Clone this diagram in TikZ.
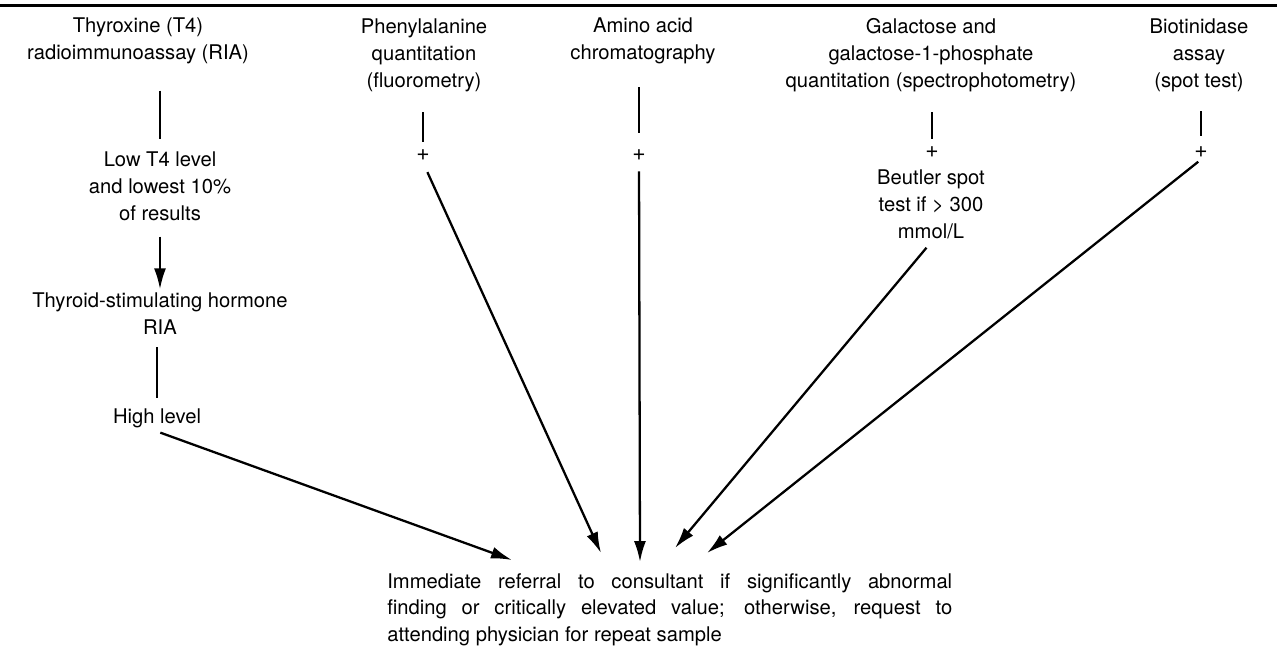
\documentclass[tikz,border=0pt]{standalone}
\usepackage{fontspec}
\setmainfont{TeX Gyre Heros}
\usetikzlibrary{arrows.meta, positioning, calc}

\tikzset{
  testtext/.style={font=\fontsize{11.5}{15.3}\selectfont, align=center, inner sep=2pt},
  plussign/.style={font=\fontsize{13}{13}\selectfont, inner sep=1pt},
  link/.style={line width=1.3pt},
  arrowlink/.style={line width=1.3pt, -{Latex[length=4.2mm, width=2.4mm]}},
}

\begin{document}
\begin{tikzpicture}[x=0.02cm, y=-0.02cm]
  \useasboundingbox (0,0) rectangle (1277,664);

  % rule at the top
  \draw[line width=1.7pt] (0,5) -- (1277,5);

  % screening tests
  \node[testtext] (thyro) at (138,41) {Thyroxine (T4)\\radioimmunoassay (RIA)};
  \node[testtext] (phe)   at (424,55) {Phenylalanine\\quantitation\\(fluorometry)};
  \node[testtext] (amino) at (643,41) {Amino acid\\chromatography};
  \node[testtext] (gal)   at (931,55) {Galactose and\\galactose-1-phosphate\\quantitation (spectrophotometry)};
  \node[testtext] (bio)   at (1199,55) {Biotinidase\\assay\\(spot test)};

  % thyroid branch
  \node[testtext] (low)  at (160,186) {Low T4 level\\and lowest 10\%\\of results};
  \node[testtext] (tsh)  at (160,314) {Thyroid-stimulating hormone\\RIA};
  \node[testtext] (high) at (157,418) {High level};

  % positive results
  \node[plussign] (pheplus)   at (423,155) {+};
  \node[plussign] (aminoplus) at (639,155) {+};
  \node[plussign] (galplus)   at (932,152) {+};
  \node[plussign] (bioplus)   at (1201,152) {+};
  \node[testtext] (beutler) at (931,204) {Beutler spot\\test if > 300\\mmol/L};

  % outcome
  \node[font=\fontsize{11.5}{15.2}\selectfont, text width=11.3cm, align=justify,
        inner sep=0pt, anchor=north west] (referral) at (387,573)
    {Immediate referral to consultant if significantly abnormal\linebreak
     finding or critically elevated value; otherwise, request to\linebreak
     attending physician for repeat sample};

  \coordinate (tiphigh)  at (512,560);
  \coordinate (tipphe)   at (601,553);
  \coordinate (tipamino) at (640,562);
  \coordinate (tipgal)   at (675,548);
  \coordinate (tipbio)   at (707,553);

  % vertical links
  \draw[link, shorten <=13pt, shorten >=5pt] (thyro.south -| low.north) -- (low.north);
  \draw[arrowlink, shorten <=7pt] (low.south) -- (tsh.north);
  \draw[link, shorten <=5pt, shorten >=3.5pt] (tsh.south -| high.north) -- (high.north);
  \draw[link, shorten <=9.5pt, shorten >=3pt] (phe.south -| pheplus.north) -- (pheplus.north);
  \draw[link, shorten <=11pt, shorten >=8pt] (amino.south -| aminoplus.north) -- (aminoplus.north);
  \draw[link, shorten <=9.5pt, shorten >=3pt] (gal.south -| galplus.north) -- (galplus.north);
  \draw[link, shorten <=9pt, shorten >=5pt] (bio.south -| bioplus.north) -- (bioplus.north);

  % arrows to the outcome
  \draw[arrowlink, shorten <=2pt] (high.south) -- (tiphigh);
  \draw[arrowlink, shorten <=6pt] (pheplus.south) -- (tipphe);
  \draw[arrowlink, shorten <=5pt] (aminoplus.south) -- (tipamino);
  \draw[arrowlink, shorten <=4pt] (beutler.south) -- (tipgal);
  \draw[arrowlink, shorten <=2pt] (bioplus.south) -- (tipbio);
\end{tikzpicture}
\end{document}
